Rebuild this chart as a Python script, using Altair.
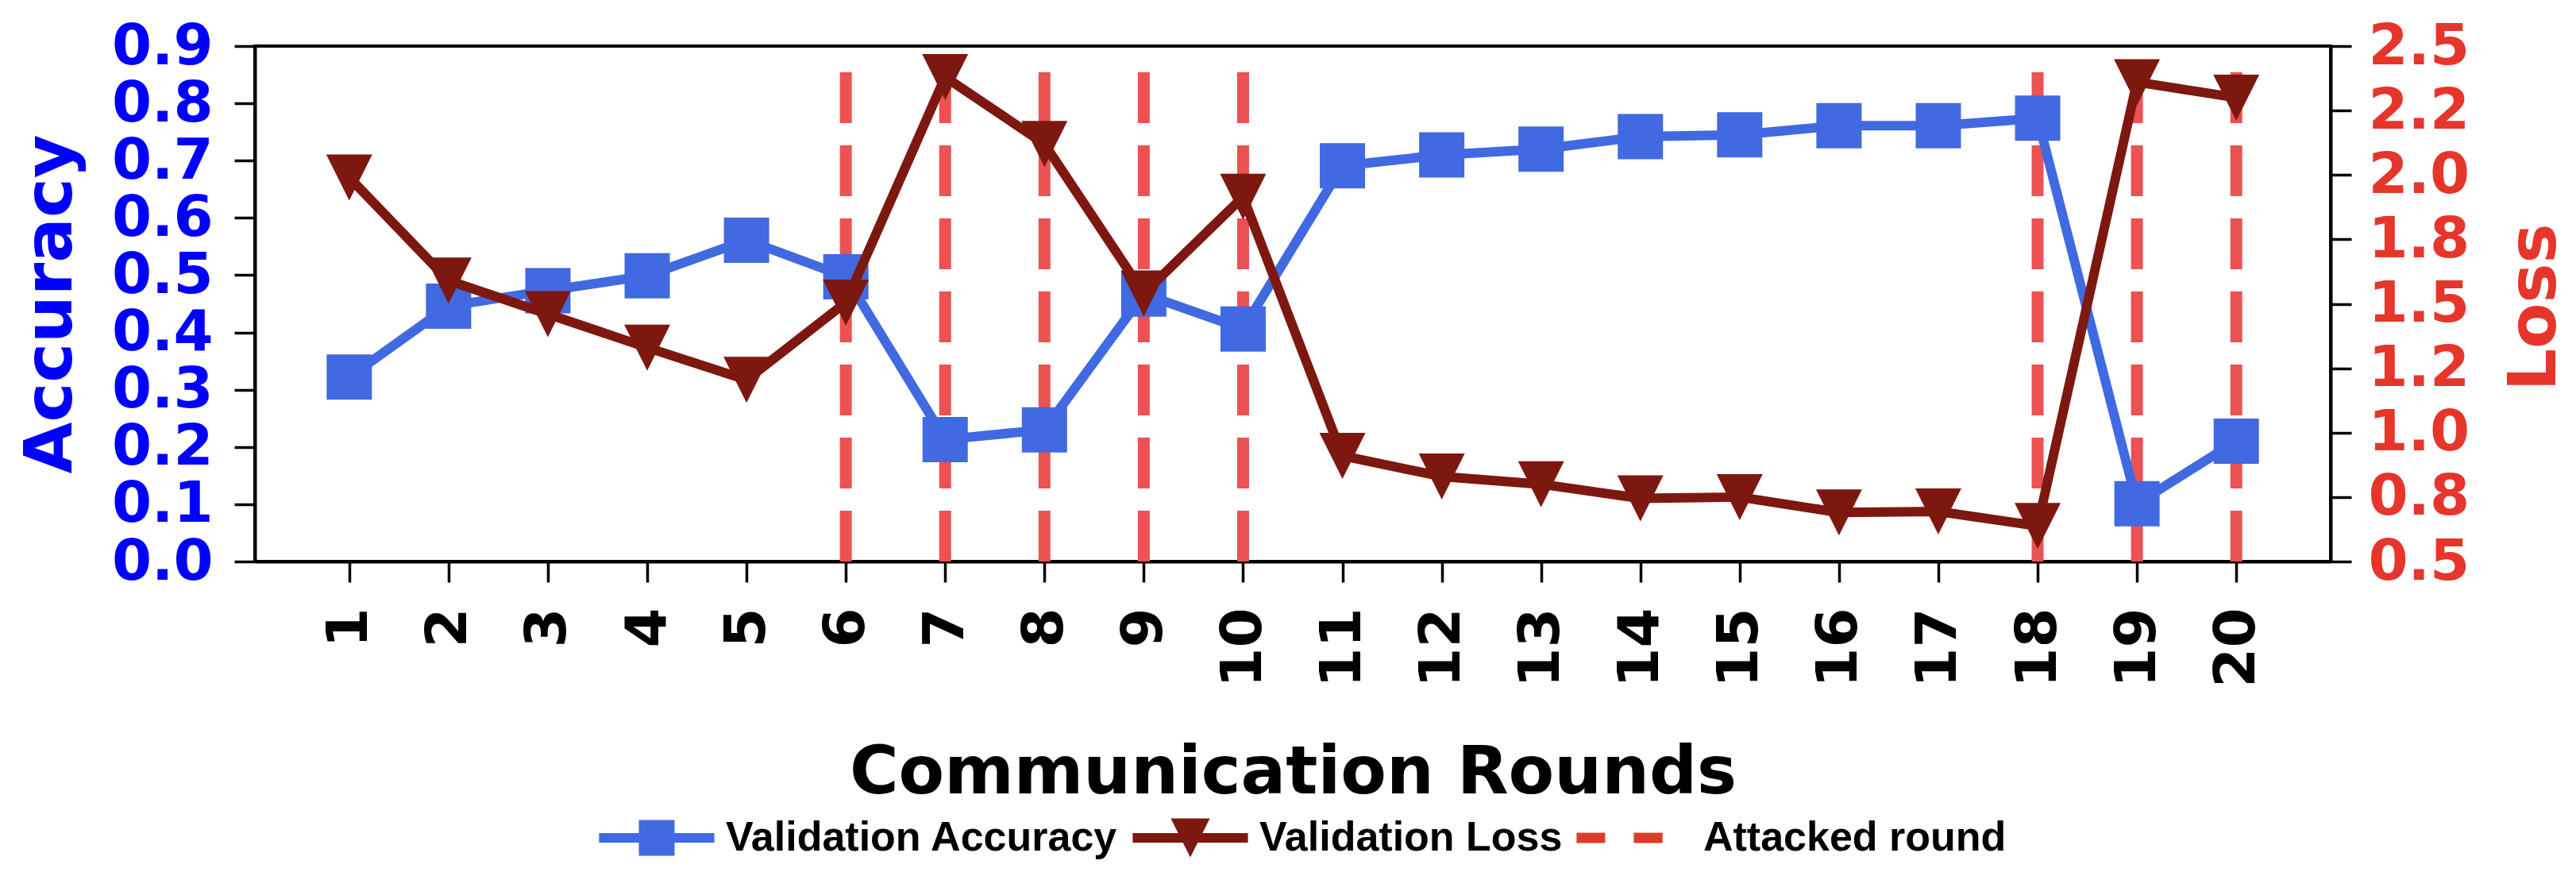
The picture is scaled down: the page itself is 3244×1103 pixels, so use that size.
import altair as alt
import pandas as pd

# ---------------- data ----------------
rounds = list(range(1, 21))
accuracy = [0.322, 0.446, 0.473, 0.499, 0.561, 0.497, 0.213, 0.230, 0.467, 0.406,
            0.691, 0.710, 0.720, 0.742, 0.745, 0.761, 0.761, 0.774, 0.101, 0.210]
loss = [1.99, 1.59, 1.46, 1.33, 1.205, 1.505, 2.38, 2.12, 1.54, 1.915,
        0.91, 0.83, 0.80, 0.745, 0.75, 0.69, 0.694, 0.638, 2.36, 2.30]
attacked_rounds = [6, 7, 8, 9, 10, 18, 19, 20]

acc_ticks = [0.0, 0.1, 0.2, 0.3, 0.4, 0.5, 0.6, 0.7, 0.8, 0.9]
loss_ticks = [0.5, 0.75, 1.0, 1.25, 1.5, 1.75, 2.0, 2.25, 2.5]
loss_tick_labels = [f"{v:.1f}" for v in loss_ticks]

legend_labels = ["Validation Accuracy", "Validation Loss", "Attacked round"]

# ---------------- styles ----------------
ACC_COLOR = "#4169e1"
LOSS_COLOR = "#7d1810"
DASH_COLOR = "#eb5252"
LEGEND_DASH_COLOR = "#dd3b2a"
LEFT_LABEL = "#0000ff"
RIGHT_LABEL = "#e6352b"
FONT = "DejaVu Sans"

W, H = 2614, 649

legend_colors = [ACC_COLOR, LOSS_COLOR, LEGEND_DASH_COLOR]
# symbol box is 60px (unit = 30px); the handles are drawn 145px wide (±2.42 units)
legend_paths = [
    "M-2.42,-0.2H2.42V0.2H-2.42Z M-0.75,-0.75H0.75V0.75H-0.75Z",
    "M-2.42,-0.2H2.42V0.2H-2.42Z M-0.82,-0.82L0.82,-0.82L0,0.82Z",
    "M-2.42,-0.22H-1.22V0.22H-2.42Z M-0.02,-0.22H1.19V0.22H-0.02Z",
]

df = pd.DataFrame({"round": rounds, "accuracy": accuracy, "loss": loss})
df_att = pd.DataFrame({"round": attacked_rounds})
df_leg = pd.DataFrame({"series": legend_labels})

loss_expr = " : ".join(
    f"abs(datum.value - {v}) < 1e-6 ? '{lab}'" for v, lab in zip(loss_ticks, loss_tick_labels)
) + " : datum.label"

common_axis = dict(
    labelFont=FONT, labelFontWeight="bold", labelFontSize=72,
    titleFont=FONT, titleFontWeight="bold", titleFontSize=84,
    tickSize=26, tickWidth=3.5, tickColor="black",
    domainColor="black", domainWidth=4,
    grid=False, labelOverlap=False, labelFlush=False, labelBound=False,
)

x_axis = alt.Axis(
    values=rounds, format="d", labelAngle=270, labelPadding=32, labelColor="black",
    title="Communication Rounds", titleColor="black",
    titleX=W / 2, titleY=266, titleBaseline="middle", titleAlign="center",
    **common_axis,
)
x_scale = alt.Scale(domain=[0.05, 20.95], nice=False, zero=False)
x_enc = alt.X("round:Q", scale=x_scale, axis=x_axis)

acc_scale = alt.Scale(domain=[0.0, 0.9], nice=False, zero=False)
acc_axis = alt.Axis(
    orient="left", values=acc_ticks, format=".1f", labelColor=LEFT_LABEL, labelPadding=27,
    title="Accuracy", titleColor=LEFT_LABEL, titleAngle=270,
    titleX=-257, titleY=H / 2, titleBaseline="middle", titleAlign="center",
    **common_axis,
)
loss_scale = alt.Scale(domain=[0.5, 2.5], nice=False, zero=False)
loss_axis = alt.Axis(
    orient="right", values=loss_ticks, labelExpr=loss_expr, labelColor=RIGHT_LABEL,
    labelPadding=21,
    title="Loss", titleColor=RIGHT_LABEL, titleAngle=270,
    titleX=257, titleY=H / 2 + 4, titleBaseline="middle", titleAlign="center",
    **common_axis,
)

rules = alt.Chart(df_att).mark_rule(
    color=DASH_COLOR, strokeWidth=15, strokeDash=[64, 28]
).encode(
    x=x_enc,
    y=alt.Y(datum=0.0, scale=acc_scale, axis=acc_axis),
    y2=alt.Y2(datum=0.855),
)

acc_line = alt.Chart(df).mark_line(
    color=ACC_COLOR, strokeWidth=12, strokeJoin="round"
).encode(x=x_enc, y=alt.Y("accuracy:Q", scale=acc_scale, axis=acc_axis))

acc_pts = alt.Chart(df).mark_point(
    shape="square", filled=True, size=3249, color=ACC_COLOR, opacity=1, strokeWidth=0
).encode(x=x_enc, y=alt.Y("accuracy:Q", scale=acc_scale, axis=acc_axis))

loss_line = alt.Chart(df).mark_line(
    color=LOSS_COLOR, strokeWidth=12, strokeJoin="round"
).encode(x=x_enc, y=alt.Y("loss:Q", scale=loss_scale, axis=loss_axis))

loss_pts = alt.Chart(df).mark_point(
    shape="M-1,-1L1,-1L0,1Z", filled=True, size=3364, color=LOSS_COLOR, opacity=1, strokeWidth=0
).encode(x=x_enc, y=alt.Y("loss:Q", scale=loss_scale, axis=loss_axis))

leg = alt.Legend(
    title=None, orient="none", legendX=476, legendY=967, direction="horizontal",
    symbolSize=3600, symbolStrokeWidth=0, symbolOpacity=1,
    labelFont="Liberation Sans", labelFontWeight="bold", labelFontSize=52,
    labelColor="black", labelLimit=3000, labelOffset=57, columnPadding=17, padding=0,
)
legend_layer = alt.Chart(df_leg).transform_filter(
    "datum.series == 'none'"
).mark_point(filled=True).encode(
    color=alt.Color("series:N", scale=alt.Scale(domain=legend_labels, range=legend_colors), legend=leg),
    shape=alt.Shape("series:N", scale=alt.Scale(domain=legend_labels, range=legend_paths), legend=leg),
)

left = alt.layer(rules, acc_line, acc_pts)
right = alt.layer(loss_line, loss_pts)

chart = alt.layer(left, right, legend_layer).resolve_scale(
    y="independent"
).properties(
    width=W, height=H,
    autosize=alt.AutoSizeParams(type="none"),
    padding={"left": 313, "top": 50, "right": 300, "bottom": 382},
    background="white",
).configure_view(stroke="black", strokeWidth=4)

chart.save("out.html", embed_options={"renderer": "svg", "actions": False})
